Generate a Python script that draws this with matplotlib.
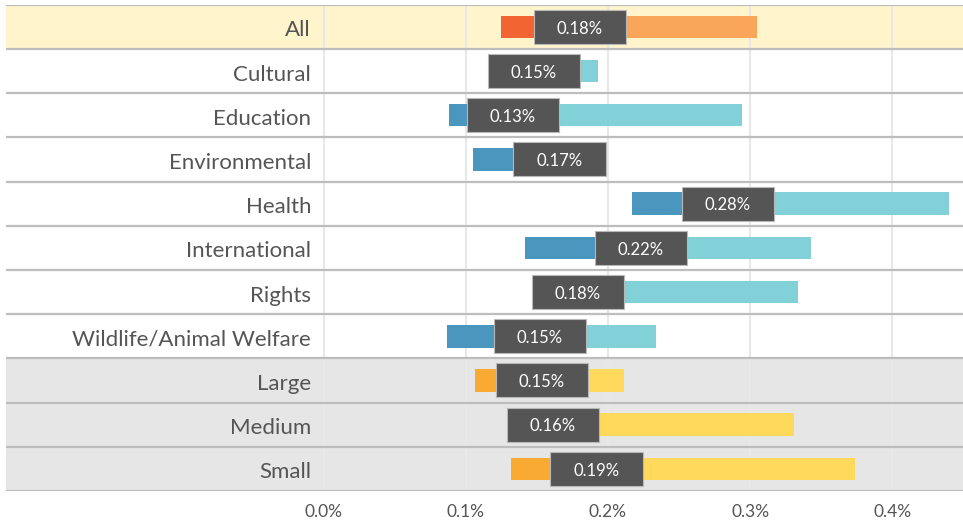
import matplotlib
matplotlib.use("Agg")
import matplotlib.pyplot as plt
from matplotlib.patches import Rectangle

plt.rcParams['font.family'] = ['Lato', 'DejaVu Sans']

categories = ["All", "Cultural", "Education", "Environmental", "Health", "International",
              "Rights", "Wildlife/Animal Welfare", "Large", "Medium", "Small"]
groups = ["all", "topic", "topic", "topic", "topic", "topic", "topic", "topic", "size", "size", "size"]
low_values = [0.125, 0.13, 0.0885, 0.105, 0.217, 0.1415, 0.16, 0.0866, 0.1065, 0.14, 0.132]
median_values = [0.1804, 0.148, 0.133, 0.166, 0.2845, 0.223, 0.179, 0.152, 0.1535, 0.1614, 0.192]
high_values = [0.305, 0.193, 0.294, 0.18, 0.44, 0.3426, 0.334, 0.2336, 0.211, 0.3307, 0.374]
xticks = [0.0, 0.1, 0.2, 0.3, 0.4]
xtick_labels = ["0.0%", "0.1%", "0.2%", "0.3%", "0.4%"]

colors = {
    "all": ("#F26532", "#F9A55A", "#FFF4CC"),
    "topic": ("#4A96BE", "#82D0D8", "#FFFFFF"),
    "size": ("#F9AA33", "#FED95C", "#E6E6E6"),
}

W, H = 963, 524
fig = plt.figure(figsize=(W / 100, H / 100), dpi=100)
left_px, right_px, top_px, bot_px = 6, 963, 4.7, 491
ax = fig.add_axes([left_px / W, 1 - bot_px / H, (right_px - left_px) / W, (bot_px - top_px) / H])

px0, pxper = 323.5, 1422.0
xmin = (left_px - px0) / pxper
xmax = (right_px - px0) / pxper
ax.set_xlim(xmin, xmax)
n = len(categories)
ax.set_ylim(n, 0)
ax.axis("off")

# row backgrounds
for i, g in enumerate(groups):
    bg = colors[g][2]
    ax.add_patch(Rectangle((xmin, i), xmax - xmin, 1, facecolor=bg, edgecolor="none", zorder=0))

# gridlines
for t in xticks:
    ax.plot([t, t], [0, n], color="#E8E8E8", lw=1.5, zorder=1, solid_capstyle="butt")

# separators
for i in range(n + 1):
    ax.plot([xmin, xmax], [i, i], color="#BDBDBD", lw=1.6, zorder=2, solid_capstyle="butt")

bar_h = 0.51
box_h = 0.77
label_x = (311 - px0) / pxper
for i, (cat, g, lo, md, hi) in enumerate(zip(categories, groups, low_values, median_values, high_values)):
    c_lo, c_hi, _ = colors[g]
    yc = i + 0.5
    ax.barh(yc, md - lo, left=lo, height=bar_h, color=c_lo, zorder=3)
    ax.barh(yc, hi - md, left=md, height=bar_h, color=c_hi, zorder=3)
    ax.text(label_x, yc + 0.08, cat, ha="right", va="center", fontsize=16, color="#555555")

fig.canvas.draw()
renderer = fig.canvas.get_renderer()
inv = ax.transData.inverted()
for i, md in enumerate(median_values):
    yc = i + 0.5
    t = ax.text(md, yc + 0.04, f"{md:.2f}%", ha="center", va="center", fontsize=12,
                color="white", zorder=6)
    bb = t.get_window_extent(renderer)
    (x0, _), (x1, _) = inv.transform([(bb.x0, 0), (bb.x1, 0)])
    pad = 23 / pxper
    wbox = (x1 - x0) + 2 * pad
    ax.add_patch(Rectangle((md - wbox / 2, yc - box_h / 2), wbox, box_h, facecolor="#555555",
                           edgecolor="#B8B8B8", lw=0.8, zorder=5))

for t, lab in zip(xticks, xtick_labels):
    ax.text(t, n + 0.47, lab, ha="center", va="center", fontsize=12.5, color="#555555", clip_on=False)

fig.savefig("out.png", dpi=100)
